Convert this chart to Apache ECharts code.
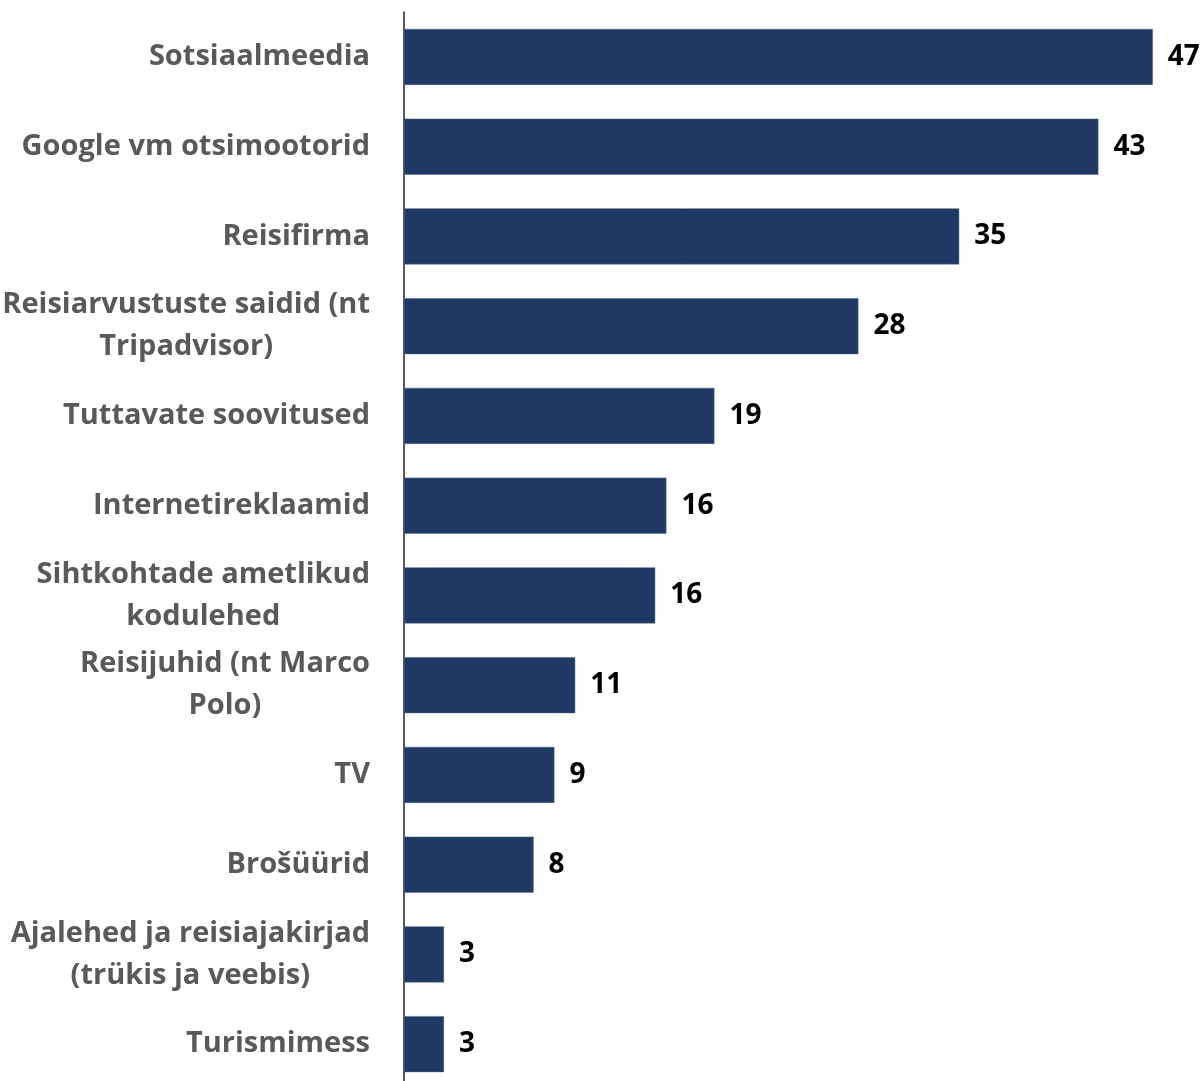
<!DOCTYPE html>
<html>
<head>
<meta charset="utf-8">
<script src="https://cdn.jsdelivr.net/npm/echarts@6/dist/echarts.min.js"></script>
<style>
html,body{margin:0;padding:0;background:#fff;}
#chart{width:1204px;height:1081px;}
</style>
</head>
<body>
<div id="chart"></div>
<script>
var categories = [
  "Sotsiaalmeedia",
  "Google vm otsimootorid",
  "Reisifirma",
  "Reisiarvustuste saidid (nt\nTripadvisor)",
  "Tuttavate soovitused",
  "Internetireklaamid",
  "Sihtkohtade ametlikud\nkodulehed",
  "Reisijuhid (nt Marco\nPolo)",
  "TV",
  "Brošüürid",
  "Ajalehed ja reisiajakirjad\n(trükis ja veebis)",
  "Turismimess"
];
var values = [46.8, 43.4, 34.7, 28.4, 19.4, 16.4, 15.7, 10.7, 9.4, 8.1, 2.5, 2.5];
var labels = ["47", "43", "35", "28", "19", "16", "16", "11", "9", "8", "3", "3"];

var FONT = "'Open Sans'";
var chart = echarts.init(document.getElementById('chart'));
chart.setOption({
  animation: false,
  grid: {left: 404, right: 0, top: 12, height: 1077, containLabel: false, outerBoundsMode: 'none'},
  xAxis: {
    type: 'value', min: 0, max: 50,
    show: false
  },
  yAxis: {
    type: 'category',
    inverse: true,
    data: categories,
    axisLine: {show: true, lineStyle: {color: '#222', width: 1.5}},
    axisTick: {show: false},
    splitLine: {show: false},
    axisLabel: {
      margin: 34,
      align: 'right',
      fontFamily: FONT,
      fontWeight: 'bold',
      fontSize: 29,
      color: '#595959',
      lineHeight: 42,
      formatter: function (v) {
        return v.split('\n').map(function (s) { return '{c|' + s + '}'; }).join('\n');
      },
      rich: {
        c: {align: 'center', fontFamily: FONT, fontWeight: 'bold', fontSize: 29, color: '#595959', lineHeight: 42}
      }
    }
  },
  series: [{
    type: 'bar',
    data: values,
    barWidth: 56,
    itemStyle: {color: '#203864', borderColor: '#4d6289', borderWidth: 0.5},
    label: {
      show: true,
      position: 'right',
      distance: 15,
      fontFamily: FONT,
      fontWeight: 'bold',
      fontSize: 28,
      color: '#000',
      formatter: function (p) { return labels[p.dataIndex]; }
    }
  }]
});
</script>
</body>
</html>
